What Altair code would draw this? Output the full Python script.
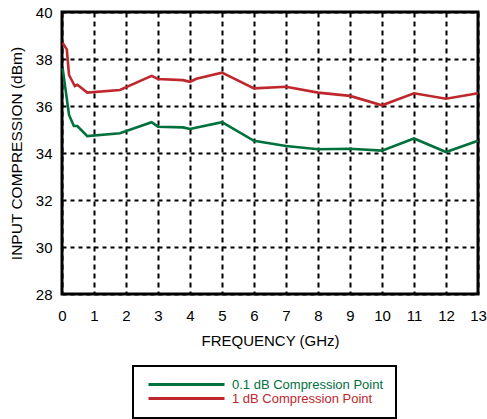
import altair as alt
import pandas as pd

red_freq = [0.02, 0.15, 0.22, 0.4, 0.48, 0.79, 1.81, 2.8, 3.0, 3.78, 4.0, 4.2, 5.0, 6.0, 7.0, 8.0, 9.0, 10.0, 11.0, 12.0, 13.0]
red_vals = [38.68, 38.41, 37.32, 36.85, 36.9, 36.57, 36.68, 37.28, 37.15, 37.1, 37.03, 37.16, 37.42, 36.75, 36.82, 36.57, 36.43, 36.03, 36.54, 36.31, 36.54]
green_freq = [0.02, 0.22, 0.37, 0.48, 0.79, 1.81, 2.8, 3.0, 3.78, 4.0, 5.0, 6.0, 7.0, 8.0, 9.0, 10.0, 11.0, 12.0, 13.0]
green_vals = [37.6, 35.62, 35.15, 35.15, 34.72, 34.84, 35.31, 35.12, 35.09, 35.02, 35.31, 34.52, 34.3, 34.16, 34.18, 34.1, 34.62, 34.04, 34.52]

series_names = ["0.1 dB Compression Point", "1 dB Compression Point"]
series_colors = ["#00703c", "#c0272d"]
x_ticks = list(range(0, 14))
y_ticks = list(range(28, 41, 2))

rows = []
for f, v in zip(green_freq, green_vals):
    rows.append({"freq": f, "val": v, "series": series_names[0]})
for f, v in zip(red_freq, red_vals):
    rows.append({"freq": f, "val": v, "series": series_names[1]})
df = pd.DataFrame(rows)

font = "Liberation Sans"

chart = alt.Chart(df).mark_line(strokeWidth=2.6).encode(
    x=alt.X("freq:Q", scale=alt.Scale(domain=[0, 13], nice=False),
            axis=alt.Axis(values=x_ticks, title="FREQUENCY (GHz)", grid=True,
                          gridColor="black", gridDash=[5, 4], gridWidth=2,
                          ticks=False, domain=False, labelPadding=14, labelFlush=False,
                          labelFontSize=15, titleFontSize=15, titlePadding=10,
                          labelFont=font, titleFont=font, labelColor="black",
                          titleColor="black", titleFontWeight="normal")),
    y=alt.Y("val:Q", scale=alt.Scale(domain=[28, 40], nice=False),
            axis=alt.Axis(values=y_ticks, title="INPUT COMPRESSION (dBm)", grid=True,
                          gridColor="black", gridDash=[4, 4], gridWidth=2,
                          ticks=False, domain=False, labelPadding=10, labelFlush=False,
                          labelFontSize=15, titleFontSize=15.5, titlePadding=11,
                          labelFont=font, titleFont=font, labelColor="black",
                          titleColor="black", titleFontWeight="normal")),
    color=alt.Color("series:N",
                    scale=alt.Scale(domain=series_names, range=series_colors),
                    legend=alt.Legend(title=None, orient="none", legendX=71, legendY=354,
                                      symbolType="M-0.6,0H14.6", symbolSize=100,
                                      symbolStrokeWidth=3, labelFontSize=13,
                                      labelFont=font, strokeColor="black",
                                      padding=12, labelOffset=74, rowPadding=-3,
                                      labelColor={"expr": "datum.label == '1 dB Compression Point' ? '#c0272d' : '#00703c'"})),
).properties(
    width=416, height=282,
    autosize=alt.AutoSizeParams(type="none"),
    padding={"left": 62, "top": 12, "right": 9, "bottom": 125},
).configure_view(stroke="black", strokeWidth=3).configure_legend(strokeWidth=2)

chart.save("out.html", embed_options={"renderer": "svg", "actions": False})
